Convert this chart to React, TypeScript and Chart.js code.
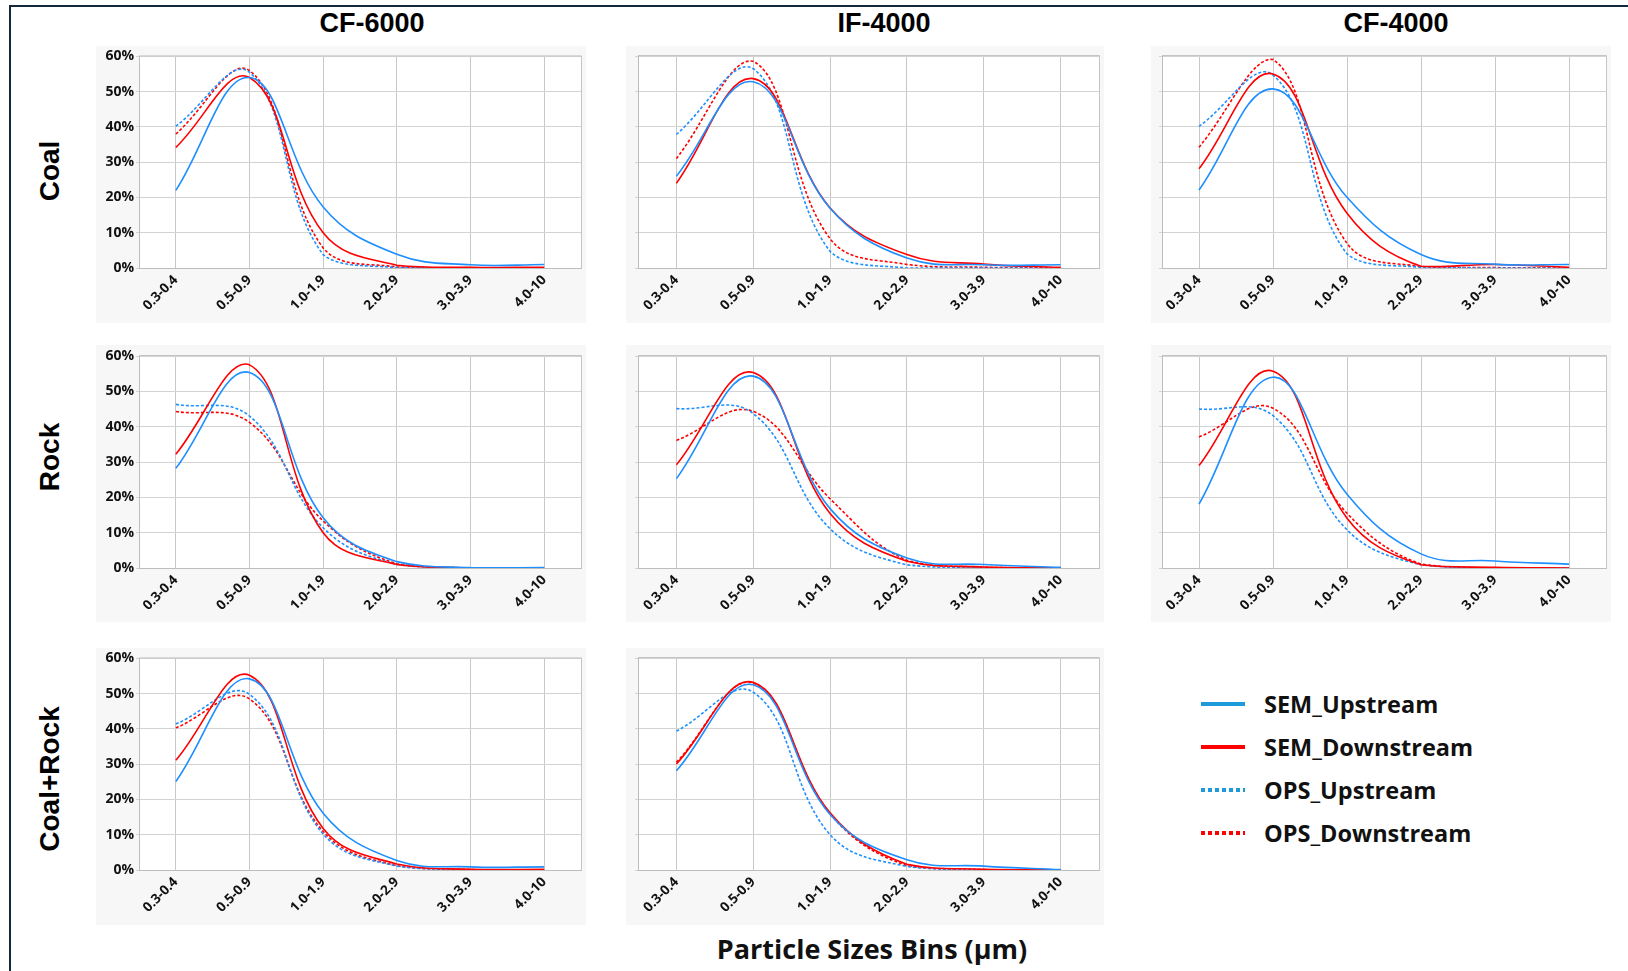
import React, { useEffect, useRef } from 'react';
import { Chart, registerables } from 'chart.js';

Chart.register(...registerables);

// Particle size bins (µm)
const sizeBins = ['0.3-0.4', '0.5-0.9', '1.0-1.9', '2.0-2.9', '3.0-3.9', '4.0-10'];
const yTicks = [0, 10, 20, 30, 40, 50, 60];

const seriesNames = ['SEM_Upstream', 'SEM_Downstream', 'OPS_Upstream', 'OPS_Downstream'];
const columnTitles = ['CF-6000', 'IF-4000', 'CF-4000'];
const rowTitles = ['Coal', 'Rock', 'Coal+Rock'];

// Coal – CF-6000
const coalCf6000SemUp = [22.0, 54.0, 17.3, 3.9, 0.9, 1.0];
const coalCf6000SemDown = [34.2, 54.0, 10.0, 0.8, 0.2, 0.2];
const coalCf6000OpsUp = [40.2, 55.5, 3.8, 0.1, 0.0, 0.0];
const coalCf6000OpsDown = [38.0, 56.0, 5.7, 0.3, 0.0, 0.0];

// Coal – IF-4000
const coalIf4000SemUp = [26.0, 52.7, 16.9, 2.8, 0.9, 0.9];
const coalIf4000SemDown = [24.0, 53.6, 17.0, 3.8, 1.1, 0.2];
const coalIf4000OpsUp = [37.8, 56.4, 4.7, 0.0, 0.0, 0.0];
const coalIf4000OpsDown = [31.0, 58.5, 8.3, 1.0, 0.2, 0.0];

// Coal – CF-4000
const coalCf4000SemUp = [22.1, 50.7, 20.0, 3.8, 1.1, 1.0];
const coalCf4000SemDown = [28.1, 54.9, 15.5, 0.5, 1.0, 0.2];
const coalCf4000OpsUp = [40.1, 54.6, 4.0, 0.2, 0.0, 0.0];
const coalCf4000OpsDown = [34.2, 59.0, 7.0, 0.4, 0.1, 0.0];

// Rock – CF-6000
const rockCf6000SemUp = [28.2, 55.3, 14.2, 1.8, 0.1, 0.1];
const rockCf6000SemDown = [32.2, 57.5, 10.0, 1.0, 0.0, 0.0];
const rockCf6000OpsUp = [46.3, 43.0, 11.4, 1.0, 0.0, 0.0];
const rockCf6000OpsDown = [44.3, 41.2, 13.3, 1.2, 0.0, 0.0];

// Rock – IF-4000
const rockIf4000SemUp = [25.3, 54.3, 16.8, 2.8, 1.0, 0.2];
const rockIf4000SemDown = [29.2, 55.3, 15.4, 1.9, 0.3, 0.0];
const rockIf4000OpsUp = [45.1, 43.7, 11.1, 0.9, 0.0, 0.0];
const rockIf4000OpsDown = [36.1, 44.3, 19.6, 2.2, 0.2, 0.0];

// Rock – CF-4000
const rockCf4000SemUp = [18.1, 54.0, 20.9, 4.0, 2.0, 1.1];
const rockCf4000SemDown = [29.0, 55.7, 14.1, 0.9, 0.2, 0.0];
const rockCf4000OpsUp = [45.0, 43.1, 10.8, 0.9, 0.0, 0.0];
const rockCf4000OpsDown = [37.1, 45.2, 15.5, 1.1, 0.0, 0.0];

// Coal+Rock – CF-6000
const mixCf6000SemUp = [25.1, 54.2, 16.1, 2.7, 0.9, 0.9];
const mixCf6000SemDown = [31.1, 55.2, 11.8, 1.7, 0.2, 0.2];
const mixCf6000OpsUp = [41.4, 49.8, 10.2, 1.1, 0.1, 0.0];
const mixCf6000OpsDown = [40.3, 48.5, 10.9, 1.2, 0.1, 0.0];

// Coal+Rock – IF-4000
const mixIf4000SemUp = [28.1, 52.4, 15.7, 2.9, 1.1, 0.1];
const mixIf4000SemDown = [30.0, 53.1, 16.2, 1.6, 0.2, 0.0];
const mixIf4000OpsUp = [39.3, 50.3, 10.0, 1.0, 0.1, 0.0];
const mixIf4000OpsDown = [30.5, 52.9, 15.9, 1.2, 0.1, 0.0];

// Panel grid geometry (page pixels)
const COLS = [
  { bgLeft: 96, bgRight: 586, plotLeft: 139, plotRight: 581, showY: true },
  { bgLeft: 626, bgRight: 1104, plotLeft: 638, plotRight: 1099, showY: false },
  { bgLeft: 1151, bgRight: 1611, plotLeft: 1162, plotRight: 1606, showY: false },
];
const ROWS = [
  { bgTop: 46, bgBottom: 323, plotTop: 56, plotBottom: 268 },
  { bgTop: 345, bgBottom: 622, plotTop: 356, plotBottom: 568 },
  { bgTop: 648, bgBottom: 925, plotTop: 658, plotBottom: 870 },
];

const BLUE = '#1E8FFF';
const RED = '#FF0000';
const LEGEND_BLUE = '#1D9AD8';

const seriesStyles = [
  { color: BLUE, dash: [] as number[] },
  { color: RED, dash: [] as number[] },
  { color: BLUE, dash: [3, 2] },
  { color: RED, dash: [3, 2] },
];

const panels = [
  { row: 0, col: 0, values: [coalCf6000SemUp, coalCf6000SemDown, coalCf6000OpsUp, coalCf6000OpsDown] },
  { row: 0, col: 1, values: [coalIf4000SemUp, coalIf4000SemDown, coalIf4000OpsUp, coalIf4000OpsDown] },
  { row: 0, col: 2, values: [coalCf4000SemUp, coalCf4000SemDown, coalCf4000OpsUp, coalCf4000OpsDown] },
  { row: 1, col: 0, values: [rockCf6000SemUp, rockCf6000SemDown, rockCf6000OpsUp, rockCf6000OpsDown] },
  { row: 1, col: 1, values: [rockIf4000SemUp, rockIf4000SemDown, rockIf4000OpsUp, rockIf4000OpsDown] },
  { row: 1, col: 2, values: [rockCf4000SemUp, rockCf4000SemDown, rockCf4000OpsUp, rockCf4000OpsDown] },
  { row: 2, col: 0, values: [mixCf6000SemUp, mixCf6000SemDown, mixCf6000OpsUp, mixCf6000OpsDown] },
  { row: 2, col: 1, values: [mixIf4000SemUp, mixIf4000SemDown, mixIf4000OpsUp, mixIf4000OpsDown] },
];

// White plot area with a light frame on top and right
const plotFrame = {
  id: 'plotFrame',
  beforeDraw(chart: any) {
    const { ctx, chartArea: a } = chart;
    ctx.save();
    ctx.fillStyle = '#ffffff';
    ctx.fillRect(a.left, a.top, a.right - a.left, a.bottom - a.top);
    ctx.restore();
  },
  beforeDatasetsDraw(chart: any) {
    const { ctx, chartArea: a } = chart;
    ctx.save();
    ctx.strokeStyle = '#c4c4c4';
    ctx.lineWidth = 1;
    ctx.beginPath();
    ctx.moveTo(a.left, a.top - 0.5);
    ctx.lineTo(a.right + 0.5, a.top - 0.5);
    ctx.lineTo(a.right + 0.5, a.bottom);
    ctx.stroke();
    ctx.restore();
  },
};

const tickFont = { family: '"Open Sans", "DejaVu Sans", sans-serif', weight: 'bold' as const };

function Panel({ row, col, values }: { row: number; col: number; values: number[][] }) {
  const ref = useRef<HTMLCanvasElement>(null);
  const c = COLS[col];
  const r = ROWS[row];
  const w = c.bgRight - c.bgLeft;
  const h = r.bgBottom - r.bgTop;

  useEffect(() => {
    if (!ref.current) return;
    const chart = new Chart(ref.current, {
      type: 'line',
      data: {
        labels: sizeBins,
        datasets: values.map((v, i) => ({
          label: seriesNames[i],
          data: v,
          borderColor: seriesStyles[i].color,
          backgroundColor: seriesStyles[i].color,
          borderDash: seriesStyles[i].dash,
          borderWidth: 1.6,
          pointRadius: 0,
          tension: 0.4,
          fill: false,
        })),
      },
      options: {
        responsive: false,
        animation: false,
        devicePixelRatio: 1,
        layout: {
          padding: { top: r.plotTop - r.bgTop, right: c.bgRight - c.plotRight, left: 0, bottom: 0 },
        },
        plugins: { legend: { display: false }, tooltip: { enabled: false }, title: { display: false } },
        scales: {
          x: {
            type: 'category',
            offset: true,
            grid: { offset: false, color: '#c8c8c8', lineWidth: 1, drawTicks: false },
            border: { color: '#bdbdbd', width: 1 },
            ticks: {
              autoSkip: false,
              maxRotation: 45,
              minRotation: 45,
              padding: 4,
              color: '#111111',
              font: { ...tickFont, size: 13.5 },
            },
            afterFit: (s: any) => {
              s.height = r.bgBottom - r.plotBottom;
            },
          },
          y: {
            min: 0,
            max: 60,
            afterBuildTicks: (s: any) => {
              s.ticks = yTicks.map((v) => ({ value: v }));
            },
            grid: { color: '#d3d3d3', lineWidth: 1, tickLength: 3 },
            border: { color: '#bdbdbd', width: 1 },
            ticks: {
              display: c.showY,
              padding: 2,
              color: '#111111',
              font: { ...tickFont, size: 14 },
              callback: (v: any) => `${v}%`,
            },
            afterFit: (s: any) => {
              s.width = c.plotLeft - c.bgLeft;
            },
          },
        },
      },
      plugins: [plotFrame],
    });
    return () => chart.destroy();
  }, []);

  return (
    <canvas
      ref={ref}
      width={w}
      height={h}
      style={{
        position: 'absolute',
        left: c.bgLeft,
        top: r.bgTop,
        width: w,
        height: h,
        background: '#f7f7f7',
      }}
    />
  );
}

const titleFont = '"Liberation Sans", Arial, sans-serif';
const labelFont = '"Open Sans", "DejaVu Sans", sans-serif';

const columnTitleX = [372, 884, 1396];
const rowTitleY = [171, 457, 779];
const legendRowsY = [704, 747, 790, 833];

function LegendSample({ color, dotted }: { color: string; dotted: boolean }) {
  const style: React.CSSProperties = {
    position: 'absolute',
    left: 0,
    top: -2,
    width: 44,
    height: 4,
    background: dotted
      ? `repeating-linear-gradient(to right, ${color} 0px, ${color} 4px, transparent 4px, transparent 7px)`
      : color,
  };
  return <div style={style} />;
}

export default function App() {
  const legendColors = [LEGEND_BLUE, RED, LEGEND_BLUE, RED];
  return (
    <div
      style={{
        position: 'absolute',
        left: 0,
        top: 0,
        width: 1628,
        height: 971,
        background: '#ffffff',
        overflow: 'hidden',
      }}
    >
      {/* frame lines */}
      <div style={{ position: 'absolute', left: 9, top: 5, width: 1619, height: 2, background: '#14283a' }} />
      <div style={{ position: 'absolute', left: 9, top: 5, width: 2, height: 966, background: '#14283a' }} />

      {columnTitles.map((t, i) => (
        <div
          key={t}
          style={{
            position: 'absolute',
            left: columnTitleX[i],
            top: 23,
            transform: 'translate(-50%, -50%)',
            font: `bold 27px ${titleFont}`,
            color: '#000',
            whiteSpace: 'nowrap',
          }}
        >
          {t}
        </div>
      ))}

      {rowTitles.map((t, i) => (
        <div
          key={t}
          style={{
            position: 'absolute',
            left: 50,
            top: rowTitleY[i],
            transform: 'translate(-50%, -50%) rotate(-90deg)',
            font: `bold 28px ${titleFont}`,
            color: '#000',
            whiteSpace: 'nowrap',
          }}
        >
          {t}
        </div>
      ))}

      {panels.map((p, i) => (
        <Panel key={i} row={p.row} col={p.col} values={p.values} />
      ))}

      {seriesNames.map((name, i) => (
        <div key={name} style={{ position: 'absolute', left: 1201, top: legendRowsY[i], height: 0 }}>
          <LegendSample color={legendColors[i]} dotted={i >= 2} />
          <div
            style={{
              position: 'absolute',
              left: 63,
              top: 0,
              transform: 'translateY(-50%)',
              font: `bold 23.5px ${labelFont}`,
              color: '#111',
              whiteSpace: 'nowrap',
            }}
          >
            {name}
          </div>
        </div>
      ))}

      <div
        style={{
          position: 'absolute',
          left: 872,
          top: 948,
          transform: 'translate(-50%, -50%)',
          font: `bold 27px ${labelFont}`,
          color: '#111',
          whiteSpace: 'nowrap',
        }}
      >
        Particle Sizes Bins (µm)
      </div>
    </div>
  );
}
